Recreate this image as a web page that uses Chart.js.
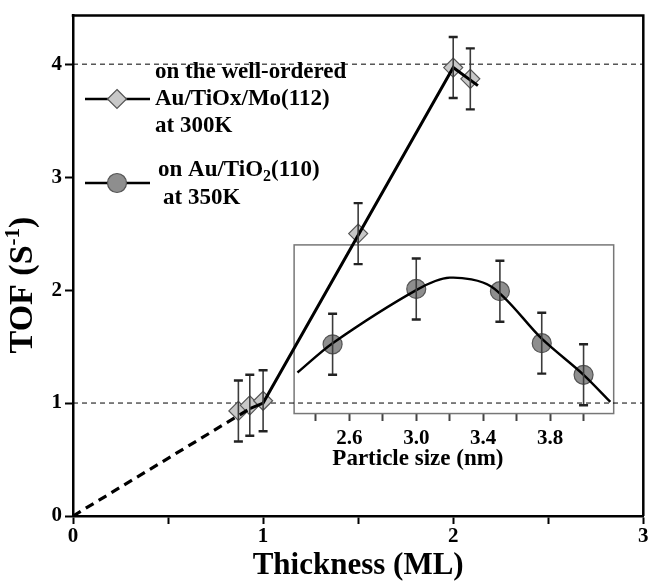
<!DOCTYPE html>
<html><head><meta charset="utf-8">
<script src="https://cdn.jsdelivr.net/npm/chart.js@4.4.0/dist/chart.umd.min.js"></script>
<style>html,body{margin:0;padding:0;background:#fff;}#wrap{width:654px;height:586px;}</style>
</head><body><div id="wrap"><canvas id="c" width="654" height="586"></canvas></div>
<script>
// ---- data ----
const thickness   = [0.87, 0.93, 1.0, 1.5, 2.0, 2.09];
const tofAuTiOx   = [0.93, 0.98, 1.02, 2.50, 3.97, 3.87];
const errAuTiOx   = [0.27, 0.27, 0.27, 0.27, 0.27, 0.27];

const fitDashX  = [0, 0.93];
const fitDashY  = [0, 0.95];
const fitSolidX = [0.93, 1.0, 2.0, 2.13];
const fitSolidY = [0.95, 1.0, 3.97, 3.81];

const particleSize = [2.5, 3.0, 3.5, 3.75, 4.0];
const tofAuTiO2    = [1.52, 2.01, 1.99, 1.53, 1.25];
const errAuTiO2    = [0.27, 0.27, 0.27, 0.27, 0.27];

const curveX = [2.29, 2.5, 3.0, 3.2, 3.45, 3.75, 4.0, 4.16];
const curveY = [1.27, 1.53, 2.0, 2.11, 2.03, 1.57, 1.25, 1.01];

const refLevels = [1, 4];

const xTicks = [0, 0.5, 1, 1.5, 2, 2.5, 3];
const xTickLabels = ['0', '', '1', '', '2', '', '3'];
const yTicks = [0, 1, 2, 3, 4];
const yTickLabels = ['0', '1', '2', '3', '4'];
const insetTicks = [2.4, 2.6, 2.8, 3.0, 3.2, 3.4, 3.6, 3.8, 4.0];
const insetTickLabels = ['', '2.6', '', '3.0', '', '3.4', '', '3.8', ''];

const xTitle = 'Thickness (ML)';
const insetTitle = 'Particle size (nm)';
const legend1 = ['on the well-ordered', 'Au/TiOx/Mo(112)', 'at 300K'];
const legend2 = ['at 350K'];

// ---- helpers ----
const SERIF = "'Liberation Serif', 'Times New Roman', serif";
const zip = (xs, ys) => xs.map((x, i) => ({x, y: ys[i]}));

const datasets = [];
refLevels.forEach(L => datasets.push({
  data: [{x: 0, y: L}, {x: 3, y: L}], showLine: true, borderColor: '#000',
  borderWidth: 1, borderDash: [5, 4], pointRadius: 0, order: 9
}));
datasets.push({data: zip(fitDashX, fitDashY), showLine: true, borderColor: '#000',
  borderWidth: 3.2, borderDash: [9, 6], pointRadius: 0, order: 1});
datasets.push({data: zip(fitSolidX, fitSolidY), showLine: true, borderColor: '#000',
  borderWidth: 3, pointRadius: 0, order: 1});
datasets.push({data: zip(thickness, tofAuTiOx), showLine: false, pointStyle: 'rectRot',
  pointRadius: 9.5, backgroundColor: '#c8c8c8', borderColor: '#555', borderWidth: 1.2, order: 5});
datasets.push({data: zip(curveX, curveY), xAxisID: 'x2', showLine: true, borderColor: '#000',
  borderWidth: 2.4, pointRadius: 0, tension: 0.3, order: 1});
datasets.push({data: zip(particleSize, tofAuTiO2), xAxisID: 'x2', showLine: false, pointStyle: 'circle',
  pointRadius: 9.5, backgroundColor: '#8e8e8e', borderColor: '#555', borderWidth: 1.2, order: 5});

const insetBoxPlugin = {
  id: 'insetBox',
  beforeDatasetsDraw(chart) {
    const {ctx} = chart, sx = chart.scales.x2, sy = chart.scales.y;
    const l = sx.getPixelForValue(2.27), r = sx.getPixelForValue(4.18);
    const t = sy.getPixelForValue(2.40), b = sy.getPixelForValue(0.907);
    ctx.save();
    ctx.strokeStyle = '#777'; ctx.lineWidth = 1.5;
    ctx.strokeRect(l, t, r - l, b - t);
    ctx.restore();
  }
};

const errorBarsPlugin = {
  id: 'errorBars',
  afterDatasetsDraw(chart) {
    const {ctx} = chart, sy = chart.scales.y;
    const sets = [
      {xs: thickness, ys: tofAuTiOx, es: errAuTiOx, sx: chart.scales.x},
      {xs: particleSize, ys: tofAuTiO2, es: errAuTiO2, sx: chart.scales.x2}
    ];
    ctx.save();
    for (const s of sets) {
      s.xs.forEach((xv, i) => {
        const px = s.sx.getPixelForValue(xv);
        const top = sy.getPixelForValue(s.ys[i] + s.es[i]);
        const bot = sy.getPixelForValue(s.ys[i] - s.es[i]);
        ctx.strokeStyle = '#3c3c3c'; ctx.lineWidth = 1.6;
        ctx.beginPath(); ctx.moveTo(px, top); ctx.lineTo(px, bot); ctx.stroke();
        ctx.strokeStyle = '#222'; ctx.lineWidth = 2.4;
        ctx.beginPath();
        ctx.moveTo(px - 4.5, top); ctx.lineTo(px + 4.5, top);
        ctx.moveTo(px - 4.5, bot); ctx.lineTo(px + 4.5, bot);
        ctx.stroke();
      });
    }
    ctx.restore();
  }
};

function drawDiamond(ctx, x, y, r) {
  ctx.beginPath();
  ctx.moveTo(x, y - r); ctx.lineTo(x + r, y); ctx.lineTo(x, y + r); ctx.lineTo(x - r, y); ctx.closePath();
  ctx.fillStyle = '#c8c8c8'; ctx.fill();
  ctx.strokeStyle = '#555'; ctx.lineWidth = 1.2; ctx.stroke();
}
function drawCircle(ctx, x, y, r) {
  ctx.beginPath(); ctx.arc(x, y, r, 0, Math.PI * 2);
  ctx.fillStyle = '#8e8e8e'; ctx.fill();
  ctx.strokeStyle = '#555'; ctx.lineWidth = 1.2; ctx.stroke();
}

const decorPlugin = {
  id: 'decor',
  afterDraw(chart) {
    const {ctx, chartArea: a} = chart;
    ctx.save();
    // frame top and right
    ctx.strokeStyle = '#000'; ctx.lineWidth = 2.5;
    ctx.beginPath();
    ctx.moveTo(a.left - 1.25, a.top); ctx.lineTo(a.right, a.top); ctx.lineTo(a.right, a.bottom);
    ctx.stroke();

    ctx.fillStyle = '#000';
    ctx.textBaseline = 'middle';
    // x title
    ctx.font = `bold 31px ${SERIF}`;
    ctx.textAlign = 'center';
    ctx.fillText(xTitle, (a.left + a.right) / 2, 566);

    // inset title
    ctx.font = `bold 23px ${SERIF}`;
    ctx.fillText(insetTitle, chart.scales.x2.getPixelForValue(3.01), 459);

    // y title with superscript
    ctx.save();
    ctx.translate(23, 285);
    ctx.rotate(-Math.PI / 2);
    const big = `bold 34px ${SERIF}`, small = `bold 21px ${SERIF}`;
    ctx.font = big; const w1 = ctx.measureText('TOF (S').width; const w3 = ctx.measureText(')').width;
    ctx.font = small; const w2 = ctx.measureText('-1').width;
    let x0 = -(w1 + w2 + w3) / 2;
    ctx.textAlign = 'left';
    ctx.font = big; ctx.fillText('TOF (S', x0, 0);
    ctx.font = small; ctx.fillText('-1', x0 + w1, -9);
    ctx.font = big; ctx.fillText(')', x0 + w1 + w2, 0);
    ctx.restore();

    // legend
    ctx.strokeStyle = '#000'; ctx.lineWidth = 2.5;
    ctx.beginPath(); ctx.moveTo(85, 99); ctx.lineTo(150, 99); ctx.stroke();
    drawDiamond(ctx, 117, 99, 9.5);
    ctx.strokeStyle = '#000'; ctx.lineWidth = 2.5;
    ctx.beginPath(); ctx.moveTo(85, 183); ctx.lineTo(150, 183); ctx.stroke();
    drawCircle(ctx, 117, 183, 9.5);

    ctx.fillStyle = '#000';
    ctx.textAlign = 'left';
    ctx.font = `bold 23px ${SERIF}`;
    ctx.fillText(legend1[0], 155, 72);
    ctx.fillText(legend1[1], 155, 99);
    ctx.fillText(legend1[2], 155, 126);
    // on Au/TiO2(110)
    let lx = 158;
    ctx.fillText('on Au/TiO', lx, 170); lx += ctx.measureText('on Au/TiO').width;
    ctx.font = `bold 16px ${SERIF}`;
    ctx.fillText('2', lx, 177); lx += ctx.measureText('2').width;
    ctx.font = `bold 23px ${SERIF}`;
    ctx.fillText('(110)', lx, 170);
    ctx.fillText(legend2[0], 163, 198);
    ctx.restore();
  }
};

const tickFont = {family: SERIF, size: 21, weight: 'bold'};

new Chart(document.getElementById('c'), {
  type: 'scatter',
  data: {datasets},
  options: {
    responsive: false, animation: false, devicePixelRatio: 1,
    layout: {padding: {top: 13, right: 8, left: 0, bottom: 0}},
    plugins: {legend: {display: false}, tooltip: {enabled: false}},
    scales: {
      x: {
        type: 'linear', position: 'bottom', min: 0, max: 3,
        afterBuildTicks: s => { s.ticks = xTicks.map(v => ({value: v})); },
        afterFit: s => { s.height = 70; },
        ticks: {autoSkip: false, maxRotation: 0, padding: 0, color: '#000', font: tickFont,
          callback: (v, i) => xTickLabels[i]},
        grid: {display: true, drawOnChartArea: false, drawTicks: true, tickLength: 8, tickWidth: 2, tickColor: '#000'},
        border: {display: true, color: '#000', width: 2.5}
      },
      y: {
        type: 'linear', position: 'left', min: 0, max: 4.43,
        afterBuildTicks: s => { s.ticks = yTicks.map(v => ({value: v})); },
        afterFit: s => { s.width = 73; },
        ticks: {autoSkip: false, padding: 3, color: '#000', font: tickFont,
          callback: (v, i) => yTickLabels[i]},
        grid: {display: true, drawOnChartArea: false, drawTicks: true, tickLength: 8, tickWidth: 2, tickColor: '#000'},
        border: {display: true, color: '#000', width: 2.5}
      },
      x2: {
        type: 'linear', axis: 'x', position: {y: 0.907}, min: 0.9485, max: 4.357,
        afterBuildTicks: s => { s.ticks = insetTicks.map(v => ({value: v})); },
        ticks: {autoSkip: false, maxRotation: 0, padding: 5, color: '#000',
          font: {family: SERIF, size: 21, weight: 'bold'},
          callback: (v, i) => insetTickLabels[i]},
        grid: {display: true, drawOnChartArea: false, drawTicks: true, tickLength: 7, tickWidth: 2, tickColor: '#444'},
        border: {display: false}
      }
    }
  },
  plugins: [insetBoxPlugin, errorBarsPlugin, decorPlugin]
});
</script>
</body></html>
